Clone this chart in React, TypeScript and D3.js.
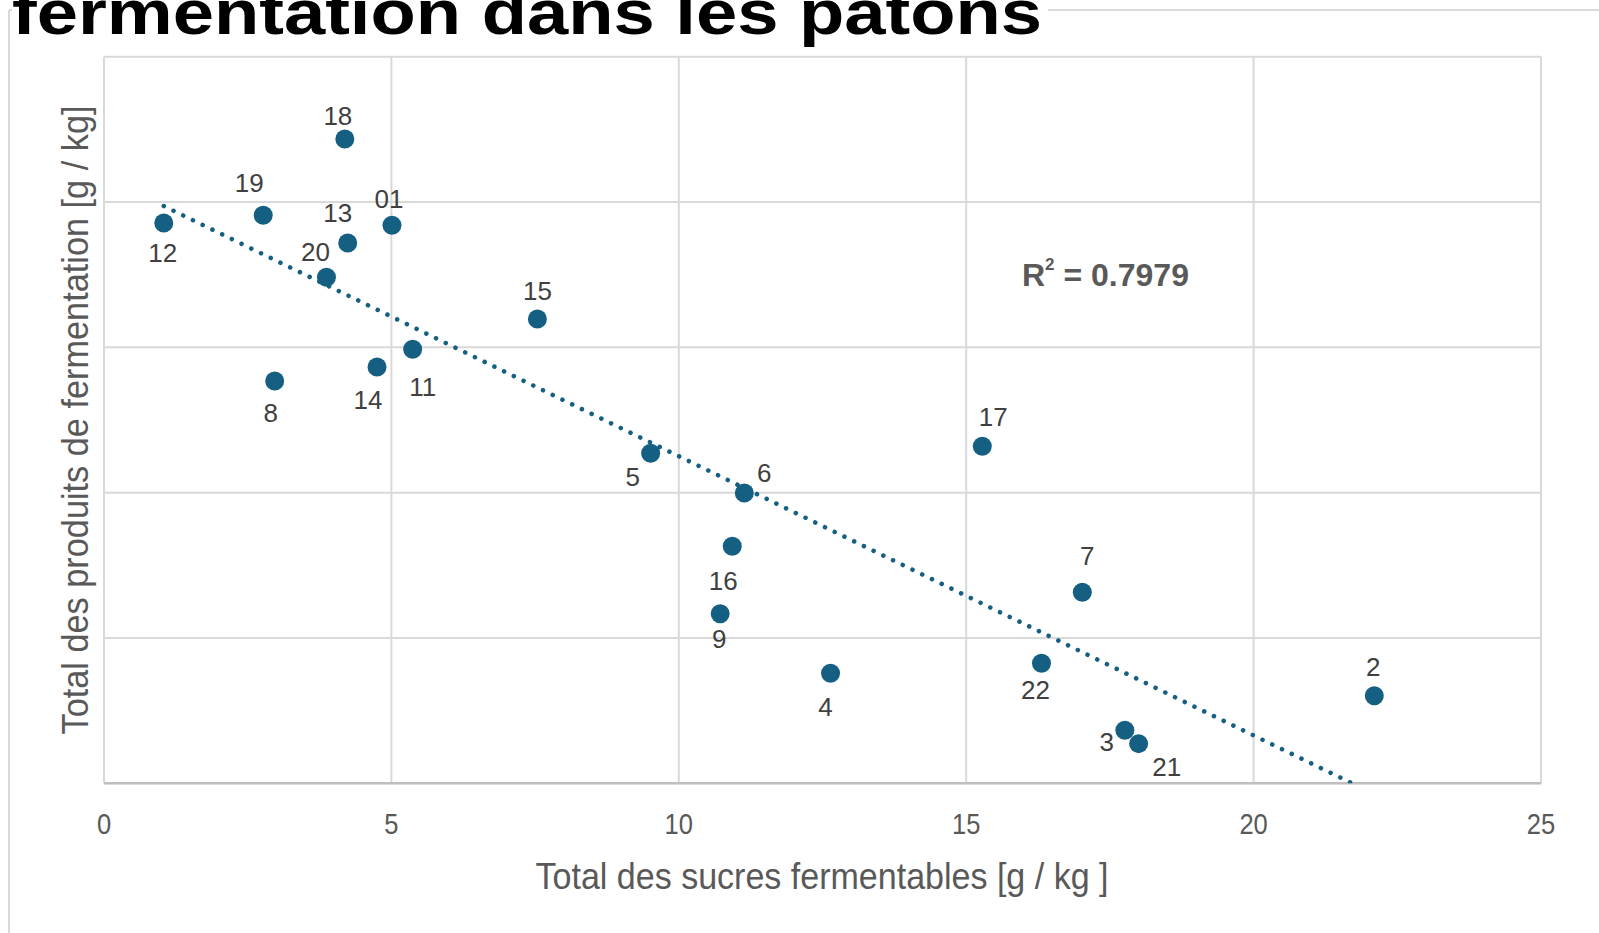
import React, { useEffect } from "react";
import * as d3 from "d3";

// Sample identifiers (data labels)
const sampleLabels = ["12", "19", "18", "13", "01", "20", "15", "8", "14", "11", "5", "6", "16", "9", "4", "17", "7", "22", "3", "21", "2"];
// Total des sucres fermentables [g / kg]
const sugarValues = [1.04, 2.77, 4.19, 4.24, 5.01, 3.87, 7.54, 2.97, 4.75, 5.37, 9.51, 11.14, 10.93, 10.72, 12.64, 15.28, 17.02, 16.31, 17.76, 18.0, 22.1];
// Total des produits de fermentation [g / kg] (axis unlabeled in the source)
const productValues = [38.56, 39.09, 44.34, 37.18, 38.4, 34.82, 31.95, 27.69, 28.65, 29.87, 22.71, 19.98, 16.31, 11.67, 7.57, 23.19, 13.15, 8.26, 3.65, 2.73, 6.03];
const xTicks = [0, 5, 10, 15, 20, 25];
const yGrid = [0, 10, 20, 30, 40, 50];
const r2Text = "0.7979";

// Layout: label placement offsets (px) relative to each point
const labelOffsets: Record<string, [number, number]> = {
  "12": [-1, 30], "19": [-14, -33], "18": [-7, -23], "13": [-10, -31], "01": [-3, -27],
  "20": [-11, -26], "15": [0, -29], "8": [-4, 32], "14": [-9, 33], "11": [10, 37],
  "5": [-18, 23], "6": [20, -20], "16": [-9, 34], "9": [-1, 25], "4": [-5, 33],
  "17": [11, -30], "7": [5, -37], "22": [-6, 26], "3": [-18, 11], "21": [28, 23], "2": [-1, -29],
};

const W = 1599;
const H = 933;
const L = 104, R = 1541, T = 56.7, B = 783.3;
const COLOR = "#156082";
const GRID = "#d9d9d9";
const FONT = "'Liberation Sans', Arial, sans-serif";

export default function App() {
  useEffect(() => {
    document.body.style.margin = "0";
    document.body.style.overflow = "hidden";
  }, []);

  const x = d3.scaleLinear().domain([0, 25]).range([L, R]);
  const y = d3.scaleLinear().domain([0, 50]).range([B, T]);

  const pts = sampleLabels.map((lab, i) => ({ lab, sx: sugarValues[i], py: productValues[i] }));

  // least-squares linear trendline
  const mx = d3.mean(sugarValues) as number;
  const my = d3.mean(productValues) as number;
  let sxy = 0, sxx = 0;
  sugarValues.forEach((v, i) => {
    sxy += (v - mx) * (productValues[i] - my);
    sxx += (v - mx) * (v - mx);
  });
  const slope = sxy / sxx;
  const intercept = my - slope * mx;
  const [xmin, xmax] = d3.extent(sugarValues) as [number, number];
  const line = d3.line<number>().x((v) => x(v)).y((v) => y(intercept + slope * v));
  const trendPath = line([xmin, xmax]) as string;

  return (
    <svg width={W} height={H} style={{ position: "absolute", left: 0, top: 0, background: "#fff" }} fontFamily={FONT}>
      <defs>
        <clipPath id="plotClip">
          <rect x={L} y={T} width={R - L} height={B - T} />
        </clipPath>
      </defs>
      {/* chart frame */}
      <line x1={9} y1={10} x2={W} y2={10} stroke={GRID} strokeWidth={2} />
      <line x1={9} y1={10} x2={9} y2={H} stroke={GRID} strokeWidth={2} />
      <rect x={12} y={0} width={1036} height={48} fill="#fff" />
      <text x={12} y={33.5} fontSize={63} fontWeight="bold" fill="#000" textLength={1030} lengthAdjust="spacingAndGlyphs">
        fermentation dans les patons
      </text>

      {/* gridlines */}
      {xTicks.map((t) => (
        <line key={"gx" + t} x1={x(t)} x2={x(t)} y1={T} y2={B} stroke={GRID} strokeWidth={2} />
      ))}
      {yGrid.map((t) => (
        <line key={"gy" + t} x1={L} x2={R} y1={y(t)} y2={y(t)} stroke={GRID} strokeWidth={2} />
      ))}
      <line x1={L} x2={R} y1={B} y2={B} stroke="#bfbfbf" strokeWidth={2.5} />

      {/* x tick labels */}
      {xTicks.map((t) => (
        <text key={"tx" + t} transform={`translate(${x(t)},834) scale(0.88,1)`} textAnchor="middle" fontSize={29} fill="#595959">
          {t}
        </text>
      ))}

      {/* axis titles */}
      <text x={822} y={889} textAnchor="middle" fontSize={37} fill="#595959" textLength={573} lengthAdjust="spacingAndGlyphs">
        Total des sucres fermentables [g / kg ]
      </text>
      <text transform="translate(88,420) rotate(-90)" textAnchor="middle" fontSize={37} fill="#595959" textLength={629} lengthAdjust="spacingAndGlyphs">
        Total des produits de fermentation [g / kg]
      </text>

      {/* trendline */}
      <path d={trendPath} clipPath="url(#plotClip)" fill="none" stroke={COLOR} strokeWidth={4.6} strokeLinecap="round" strokeDasharray="0.01 10.8" />

      {/* points */}
      {pts.map((p) => (
        <circle key={"c" + p.lab} cx={x(p.sx)} cy={y(p.py)} r={9.5} fill={COLOR} />
      ))}
      {pts.map((p) => {
        const [dx, dy] = labelOffsets[p.lab];
        return (
          <text key={"l" + p.lab} x={x(p.sx) + dx} y={y(p.py) + dy + 9.5} textAnchor="middle" fontSize={26} fill="#404040">
            {p.lab}
          </text>
        );
      })}

      {/* R² */}
      <text x={1022} y={286} fontSize={32} fontWeight="bold" fill="#595959">
        <tspan>R</tspan>
        <tspan fontSize={17} dy={-16}>2</tspan>
        <tspan dy={16}>{" = " + r2Text}</tspan>
      </text>
    </svg>
  );
}
